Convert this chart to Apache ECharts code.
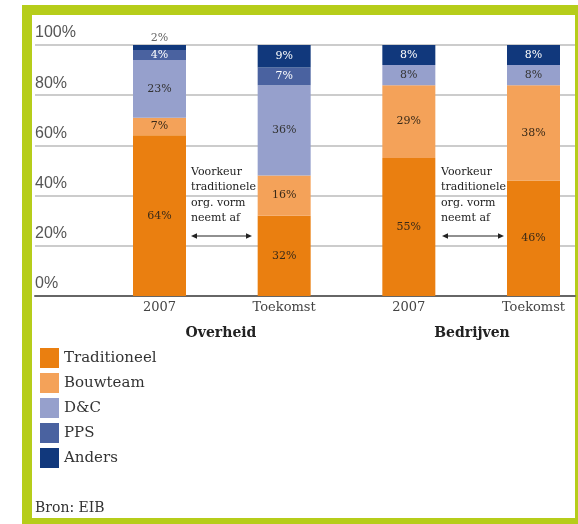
<!DOCTYPE html>
<html>
<head>
<meta charset="utf-8">
<script src="https://cdn.jsdelivr.net/npm/echarts@6/dist/echarts.min.js"></script>
<style>
html,body{margin:0;padding:0;background:#fff;}
#chart{width:578px;height:524px;}
</style>
</head>
<body>
<div id="chart"></div>
<script>
// ---- data ----
const categories = ['2007', 'Toekomst', '2007', 'Toekomst'];
const groups = ['Overheid', 'Bedrijven'];
const seriesNames = ['Traditioneel', 'Bouwteam', 'D&C', 'PPS', 'Anders'];
const traditioneel = [64, 32, 55, 46];
const bouwteam = [7, 16, 29, 38];
const dc = [23, 36, 8, 8];
const pps = [4, 7, 0, 0];
const anders = [2, 9, 8, 8];
const yTicks = [0, 20, 40, 60, 80, 100];
const annotation = 'Voorkeur\ntraditionele\norg. vorm\nneemt af';
const source = 'Bron: EIB';

const colors = ['#EA7F10', '#F4A259', '#96A0CC', '#4A62A0', '#11387C'];
const labelColors = ['#3a2a18', '#3a2a18', '#333333', '#ffffff', '#ffffff'];
const values = [traditioneel, bouwteam, dc, pps, anders];

const series = seriesNames.map((name, i) => ({
  name: name,
  type: 'bar',
  stack: 'total',
  xAxisIndex: 1,
  yAxisIndex: 1,
  barWidth: 53,
  itemStyle: { color: colors[i] },
  label: {
    show: true,
    position: 'inside',
    fontFamily: 'DejaVu Serif',
    fontSize: 11,
    color: labelColors[i],
    formatter: p => p.value > 0 ? p.value + '%' : ''
  },
  data: values[i].map(v => {
    if (v > 0 && v < 3) {
      return { value: v, label: { position: 'top', distance: 1, color: '#666' } };
    }
    return v;
  })
}));

function arrow(x1, x2, y) {
  const c = '#222';
  return [
    { type: 'line', z: 100, shape: { x1: x1 + 3, y1: y, x2: x2 - 3, y2: y }, style: { stroke: c, lineWidth: 1.2 } },
    { type: 'polygon', z: 100, shape: { points: [[x1, y], [x1 + 6, y - 2.8], [x1 + 6, y + 2.8]] }, style: { fill: c } },
    { type: 'polygon', z: 100, shape: { points: [[x2, y], [x2 - 6, y - 2.8], [x2 - 6, y + 2.8]] }, style: { fill: c } }
  ];
}

const chart = echarts.init(document.getElementById('chart'), null, { renderer: 'canvas' });
chart.setOption({
  backgroundColor: '#ffffff',
  animation: false,
  grid: [
    { left: 35, right: 3, top: 45, height: 251 },
    { left: 159.5, right: 44.5, top: 45, height: 251 }
  ],
  xAxis: [
    { type: 'category', gridIndex: 0, data: [''],
      axisLine: { show: true, lineStyle: { color: '#666', width: 2 } },
      axisTick: { show: false }, axisLabel: { show: false } },
    { type: 'category', gridIndex: 1, data: categories, boundaryGap: false,
      axisLine: { show: false }, axisTick: { show: false },
      axisLabel: { fontFamily: 'DejaVu Serif', fontSize: 13, color: '#444', margin: 5 } }
  ],
  yAxis: [
    { type: 'value', gridIndex: 0, min: yTicks[0], max: yTicks[yTicks.length - 1], interval: 20,
      axisLine: { show: false }, axisTick: { show: false },
      axisLabel: { inside: true, margin: 0, align: 'left', verticalAlign: 'bottom',
        padding: [0, 0, 4, 0], formatter: '{value}%',
        fontFamily: 'Liberation Sans', fontSize: 16, color: '#555' },
      splitLine: { lineStyle: { color: '#bbbbbb', width: 1.5 } } },
    { type: 'value', gridIndex: 1, min: yTicks[0], max: yTicks[yTicks.length - 1], show: false }
  ],
  legend: {
    orient: 'vertical', left: 35, top: 343,
    itemWidth: 19, itemHeight: 20, itemGap: 5, icon: 'rect',
    textStyle: { fontFamily: 'DejaVu Serif', fontSize: 15, color: '#333' },
    data: seriesNames
  },
  graphic: [
    { type: 'rect', z: -10, shape: { x: 22, y: 5, width: 560, height: 524 }, style: { fill: '#B6CD1A' } },
    { type: 'rect', z: -9, shape: { x: 32, y: 15, width: 543, height: 503 }, style: { fill: '#ffffff' } },
    { type: 'text', z: 100, x: 221, y: 333, style: { text: groups[0], fontFamily: 'DejaVu Serif', fontWeight: 'bold', fontSize: 14, fill: '#222', align: 'center', verticalAlign: 'middle' } },
    { type: 'text', z: 100, x: 472, y: 333, style: { text: groups[1], fontFamily: 'DejaVu Serif', fontWeight: 'bold', fontSize: 14, fill: '#222', align: 'center', verticalAlign: 'middle' } },
    { type: 'text', z: 100, x: 191, y: 164, style: { text: annotation, fontFamily: 'DejaVu Serif', fontSize: 11, lineHeight: 15.5, fill: '#222', align: 'left', verticalAlign: 'top' } },
    { type: 'text', z: 100, x: 441, y: 164, style: { text: annotation, fontFamily: 'DejaVu Serif', fontSize: 11, lineHeight: 15.5, fill: '#222', align: 'left', verticalAlign: 'top' } },
    ...arrow(191, 252, 236),
    ...arrow(442, 504, 236),
    { type: 'text', z: 100, x: 35, y: 508, style: { text: source, fontFamily: 'DejaVu Serif', fontSize: 14, fill: '#333', align: 'left', verticalAlign: 'middle' } }
  ],
  series: series
});
</script>
</body>
</html>
